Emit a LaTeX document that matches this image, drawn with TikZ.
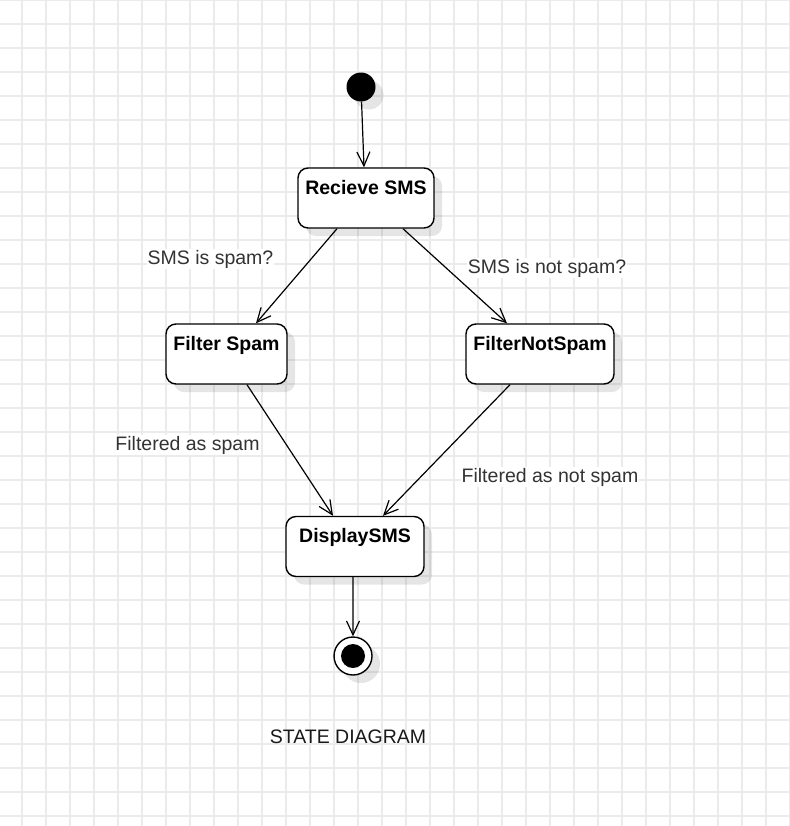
\documentclass[tikz,border=0pt]{standalone}
\usepackage{fontspec}
\setmainfont{Liberation Sans}
\usetikzlibrary{arrows.meta,shadows}

\begin{document}
\begin{tikzpicture}[x=1bp,y=-1bp,
  gridline/.style={draw=black!8,line width=1.3bp},
  shade/.style={drop shadow={shadow xshift=8bp,shadow yshift=-8bp,fill=black,opacity=0.1}},
  state/.style={draw,shade,fill=white,rounded corners=10bp,line width=1.4bp,inner xsep=0bp,inner ysep=0bp,
    text height=26bp,text depth=34bp,font=\fontsize{19.5bp}{23bp}\selectfont\bfseries},
  lbl/.style={fill=white,text=black!80,inner sep=1bp,anchor=base,font=\fontsize{19.5bp}{23bp}\selectfont},
  tr/.style={-{Straight Barb[length=14bp,width=13bp]},line width=1.2bp}]
\useasboundingbox (0,0) rectangle (790,826);
\foreach \x in {22,46,...,790} \draw[gridline] (\x,0)--(\x,826);
\foreach \y in {0,24,...,816} \draw[gridline] (0,\y)--(790,\y);

\node[circle,fill=black,shade,minimum size=29bp,inner sep=0bp] (init) at (361,87) {};
\node[state,minimum width=136bp] (recv) at (366,198) {Recieve SMS};
\node[state,minimum width=121bp] (fspam) at (226.5,354) {Filter Spam};
\node[state,minimum width=148bp] (fnspam) at (540,354) {FilterNotSpam};
\node[state,minimum width=138bp] (disp) at (355,546.5) {DisplaySMS};
\node[circle,draw,fill=white,shade,line width=1.4bp,minimum size=38bp,inner sep=0bp] (final) at (353,656) {};
\node[circle,fill=black,minimum size=24bp,inner sep=0bp] (finaldot) at (final) {};

\node[lbl] (spam) at (210.5,264) {SMS is spam?};
\node[lbl] (notspam) at (547,273) {SMS is not spam?};
\node[lbl] (asspam) at (187.5,450) {Filtered as spam};
\node[lbl] (asnotspam) at (550,482) {Filtered as not spam};
\node[lbl,fill=none,text=black!90] (title) at (348,743) {STATE DIAGRAM};

\draw[tr] (init)--([xshift=-2bp]recv.north);
\draw[tr] ([xshift=-29bp]recv.south)--([xshift=29.5bp]fspam.north);
\draw[tr] ([xshift=37bp]recv.south)--([xshift=-33bp]fnspam.north);
\draw[tr] ([xshift=20.5bp]fspam.south)--([xshift=-22bp]disp.north);
\draw[tr] ([xshift=-30bp]fnspam.south)--([xshift=28bp]disp.north);
\draw[tr] ([xshift=-2bp]disp.south)--(final);
\end{tikzpicture}
\end{document}
